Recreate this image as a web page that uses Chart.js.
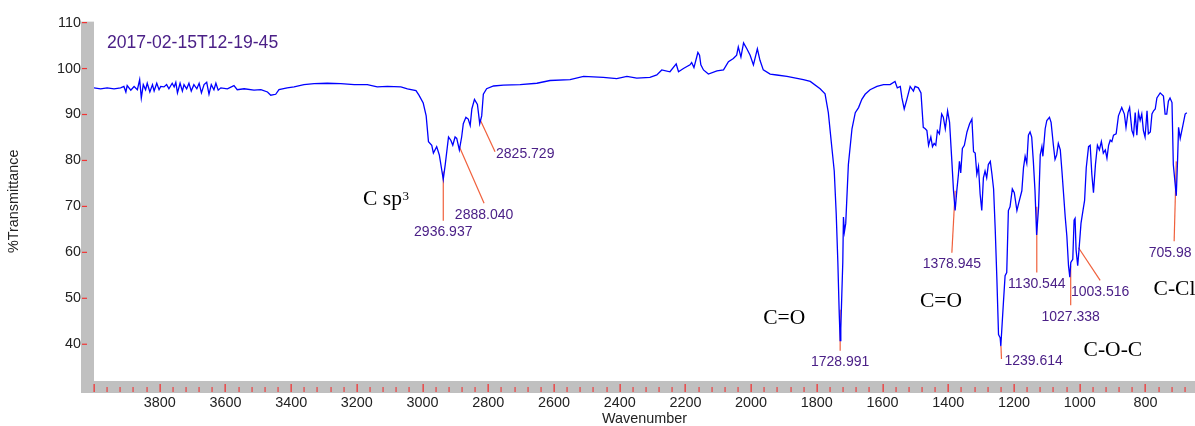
<!DOCTYPE html>
<html><head><meta charset="utf-8">
<script src="https://cdn.jsdelivr.net/npm/chart.js@4.4.1/dist/chart.umd.min.js"></script>
<style>html,body{margin:0;padding:0;background:#fff;overflow:hidden}#wrap{position:relative;width:1195px;height:426px}</style>
</head><body><div id="wrap"><canvas id="c" width="1195" height="426"></canvas></div>
<script>
// ---- data ----
const wavenumber = [4000,3980,3960,3939,3919,3909,3903,3899,3888,3878,3868,3861,3856,3850,3843,3838,3830,3822,3817,3809,3802,3797,3787,3779,3772,3762,3756,3751,3746,3738,3731,3726,3718,3711,3704,3696,3687,3680,3673,3665,3657,3650,3643,3635,3629,3622,3614,3594,3574,3564,3543,3513,3492,3472,3462,3447,3437,3412,3391,3361,3330,3290,3249,3208,3168,3138,3107,3066,3046,3020,3011,2998,2989,2982,2972,2967,2957,2949,2937,2931,2921,2914,2908,2901,2896,2888,2881,2876,2868,2861,2855,2850,2842,2833,2826,2820,2815,2805,2784,2754,2703,2652,2612,2551,2510,2450,2409,2378,2348,2308,2287,2272,2247,2228,2221,2206,2186,2181,2174,2162,2157,2153,2145,2130,2104,2084,2069,2054,2044,2039,2031,2023,2013,2003,1993,1981,1973,1963,1942,1922,1891,1841,1820,1790,1775,1765,1754,1747,1741,1736,1732,1729,1727,1724,1721,1719,1716,1712,1704,1693,1683,1673,1663,1653,1638,1617,1597,1577,1562,1555,1546,1541,1534,1526,1516,1506,1501,1491,1483,1476,1470,1465,1460,1453,1448,1443,1438,1433,1427,1420,1415,1409,1402,1396,1389,1384,1379,1374,1369,1366,1362,1357,1351,1343,1335,1328,1323,1318,1313,1308,1303,1298,1293,1288,1283,1278,1272,1267,1262,1257,1252,1247,1242,1240,1232,1227,1222,1217,1212,1205,1199,1191,1186,1176,1171,1166,1161,1156,1151,1146,1141,1136,1131,1125,1120,1115,1112,1105,1100,1092,1087,1080,1075,1070,1065,1059,1054,1049,1044,1039,1034,1030,1027,1021,1017,1014,1011,1006,1002,996,990,985,980,973,968,963,958,952,946,940,934,928,922,917,912,907,902,897,889,882,872,864,859,853,848,841,836,831,826,821,816,811,806,801,795,791,785,780,775,770,765,755,745,740,735,730,725,719,715,706,702,699,694,686,679,674];
const transmittance = [95.8,95.6,95.8,95.6,95.8,96.1,94.9,96.3,95.3,96.1,95.4,97.6,93.6,96.5,95.4,96.8,94.9,96.5,95.1,96.8,95.4,96.1,96.0,96.5,95.6,96.8,96.0,97.0,94.7,96.8,95.1,96.5,95.6,96.8,95.1,96.5,95.6,96.8,94.7,96.5,97.0,94.4,96.5,95.4,96.8,95.3,95.8,95.6,96.3,95.4,95.6,95.3,95.4,94.9,94.2,94.4,95.4,95.8,96.0,96.5,96.7,96.8,96.7,96.5,96.5,96.0,96.1,96.0,95.6,95.2,94.2,92.5,89.7,84.1,83.3,81.6,83.0,81.2,75.9,79.1,85.1,84.4,83.3,85.1,84.8,82.3,85.1,88.0,89.4,89.0,87.6,91.2,93.3,92.2,88.0,89.7,94.4,95.6,96.2,96.4,96.5,96.8,97.4,97.6,98.3,98.1,97.8,98.3,97.9,98.1,98.6,99.7,99.3,101.0,99.3,100.0,100.8,101.3,100.2,103.5,102.9,100.8,99.7,98.8,99.5,99.7,101.5,102.2,102.9,104.7,102.5,105.6,104.3,102.9,100.8,104.3,101.8,99.7,98.8,98.6,98.3,97.6,97.2,95.6,94.5,90.4,82.6,77.7,68.4,57.8,47.1,40.8,43.5,50.7,57.8,67.7,64.5,66.3,79.1,86.9,90.4,91.5,93.3,94.4,95.4,96.1,96.5,96.5,97.2,95.8,96.1,93.6,91.2,93.3,96.1,95.1,96.1,95.8,94.7,87.2,86.9,86.5,83.3,85.1,83.0,83.7,83.3,86.5,85.8,90.1,89.4,86.9,90.8,88.3,79.8,73.4,69.1,73.4,77.0,79.8,77.3,82.6,83.3,86.2,88.0,89.0,81.9,81.6,77.0,78.7,72.7,69.1,76.2,77.7,76.2,79.1,79.8,77.0,73.8,64.9,54.2,42.1,41.4,39.6,49.2,54.9,55.6,69.1,69.9,73.8,73.0,69.1,70.6,73.4,78.4,80.9,79.4,85.5,86.2,85.1,79.8,73.4,63.8,69.9,81.2,83.0,80.9,86.9,88.7,89.4,88.3,83.3,80.2,81.2,83.7,82.3,77.7,72.7,67.7,63.5,57.1,54.6,57.8,58.5,67.0,67.4,60.6,57.1,60.6,66.3,69.1,71.3,78.4,83.0,83.3,77.0,73.0,79.1,83.3,82.3,84.1,81.6,82.3,80.5,83.3,84.4,84.1,85.5,85.8,89.7,91.5,90.1,87.2,90.4,91.5,86.5,85.5,90.4,85.5,90.4,88.7,90.1,86.5,85.1,90.8,85.8,86.2,90.1,90.8,91.2,93.6,94.7,94.0,90.1,90.1,92.9,93.6,92.6,79.1,72.3,80.2,87.2,84.8,87.6,90.1,90.4];

const xTickValues = [3800,3600,3400,3200,3000,2800,2600,2400,2200,2000,1800,1600,1400,1200,1000,800];
const yTickValues = [40,50,60,70,80,90,100,110];

// peak annotations
const peakNames  = ['2936.937','2888.040','2825.729','1728.991','1378.945','1239.614','1130.544','1027.338','1003.516','705.98'];
const peakWn     = [2936.937, 2888.040, 2825.729, 1728.991, 1378.945, 1239.614, 1130.544, 1027.338, 1003.516, 705.98];
const leaderTopT = [77.6, 83.0, 89.0, 47.5, 73.4, 39.6, 69.9, 57.1, 61.0, 79.8];
const leaderEndWn= [2936.937, 2812.8, 2779.4, 1728.991, 1389, 1238, 1130.544, 1027.338, 937.7, 712.5];
const leaderEndT = [66.9, 70.7, 81.9, 38.6, 59.9, 36.8, 55.6, 48.5, 53.9, 62.4];

// group labels
const groupNames = ['C sp', 'C=O', 'C=O', 'C-O-C', 'C-Cl'];
const groupWn    = [3181, 1963, 1486, 988, 775];
const groupT     = [70.2, 44.3, 48.2, 37.5, 50.7];

const titleText = '2017-02-15T12-19-45';

// ---- styling / layout ----
const SANS = "'Liberation Sans', Arial, sans-serif";
const SERIF = "'Liberation Serif', 'Times New Roman', serif";
const PURPLE = '#4b2087';
const LEADER = '#f0603c';
const TICKRED = '#f03535';
// label placement: 'below' = centred under leader end, 'right' = to the right of leader end
const labelMode = ['below','below','right','below','below','right','below','below','below','below'];
const labelDx   = [0,0,1,0,0,3,0,0,0,-4];

const decor = {
  id: 'decor',
  beforeDatasetsDraw(chart) {
    const {ctx, chartArea: a, scales: {x, y}} = chart;
    ctx.save();
    ctx.fillStyle = '#c0c0c0';
    ctx.fillRect(81, a.top, a.left - 81, a.bottom + 12 - a.top);
    ctx.fillRect(81, a.bottom, a.right - 81, 12);
    ctx.strokeStyle = LEADER; ctx.lineWidth = 1.2;
    for (let i = 0; i < peakWn.length; i++) {
      ctx.beginPath();
      ctx.moveTo(x.getPixelForValue(peakWn[i]), y.getPixelForValue(leaderTopT[i]));
      ctx.lineTo(x.getPixelForValue(leaderEndWn[i]), y.getPixelForValue(leaderEndT[i]));
      ctx.stroke();
    }
    ctx.restore();
  },
  afterDatasetsDraw(chart) {
    const {ctx, chartArea: a, scales: {x, y}} = chart;
    ctx.save();
    // ticks in the gray bars
    ctx.fillStyle = TICKRED;
    for (let v = 4000; v >= x.min; v -= 40) {
      const px = Math.round(x.getPixelForValue(v));
      if (v % 200 === 0) ctx.fillRect(px - 0.5, a.bottom + 3, 1.3, 8);
      else ctx.fillRect(px - 0.5, a.bottom + 6, 1.1, 5);
    }
    for (const v of yTickValues) {
      const py = y.getPixelForValue(v);
      ctx.fillRect(82, py - 0.6, 5, 1.2);
    }
    // title
    ctx.fillStyle = PURPLE;
    ctx.font = '17.6px ' + SANS;
    ctx.textBaseline = 'alphabetic'; ctx.textAlign = 'left';
    ctx.fillText(titleText, 107, 48);
    // peak labels
    ctx.font = '14px ' + SANS;
    ctx.textBaseline = 'middle';
    for (let i = 0; i < peakNames.length; i++) {
      const ex = x.getPixelForValue(leaderEndWn[i]);
      const ey = y.getPixelForValue(leaderEndT[i]);
      if (labelMode[i] === 'below') {
        ctx.textAlign = 'center';
        ctx.fillText(peakNames[i], ex + labelDx[i], ey + 11.5);
      } else {
        ctx.textAlign = 'left';
        ctx.fillText(peakNames[i], ex + labelDx[i], ey + 2);
      }
    }
    // group labels
    ctx.fillStyle = '#000';
    ctx.textAlign = 'left'; ctx.textBaseline = 'alphabetic';
    for (let i = 0; i < groupNames.length; i++) {
      const gx = x.getPixelForValue(groupWn[i]);
      const gy = y.getPixelForValue(groupT[i]);
      ctx.font = '21.5px ' + SERIF;
      ctx.fillText(groupNames[i], gx, gy);
      if (i === 0) {
        const w = ctx.measureText(groupNames[i]).width;
        ctx.font = '13px ' + SERIF;
        ctx.fillText('3', gx + w + 0.5, gy - 5.5);
      }
    }
    ctx.restore();
  }
};

new Chart(document.getElementById('c'), {
  type: 'line',
  data: {
    datasets: [{
      data: wavenumber.map((w, i) => ({x: w, y: transmittance[i]})),
      borderColor: '#0000ff',
      borderWidth: 1.3,
      pointRadius: 0,
      fill: false,
      tension: 0
    }]
  },
  options: {
    responsive: false,
    animation: false,
    events: [],
    devicePixelRatio: 1,
    layout: {padding: {top: 14, left: 0, right: 0, bottom: 0}},
    plugins: {legend: {display: false}, tooltip: {enabled: false}},
    scales: {
      x: {
        type: 'linear', reverse: true, min: 649, max: 4000,
        grid: {display: false, drawTicks: false},
        border: {display: false},
        ticks: {padding: 13, color: '#222', font: {family: SANS, size: 14.4}, autoSkip: false, maxRotation: 0,
                callback: v => String(v)},
        afterBuildTicks: s => { s.ticks = xTickValues.map(v => ({value: v})); },
        afterFit: s => { s.height = 45; },
        title: {display: true, text: 'Wavenumber', color: '#222', font: {family: SANS, size: 14.4, lineHeight: 1}, padding: 0}
      },
      y: {
        type: 'linear', min: 32, max: 110.21,
        grid: {display: false, drawTicks: false},
        border: {display: false},
        ticks: {padding: 13, color: '#222', font: {family: SANS, size: 14.4}, callback: v => String(v)},
        afterBuildTicks: s => { s.ticks = yTickValues.map(v => ({value: v})); },
        afterFit: s => { s.width = 94; },
        title: {display: true, text: '%Transmittance', color: '#222', font: {family: SANS, size: 14.4, lineHeight: 1}, padding: {top: 7, bottom: 0}}
      }
    }
  },
  plugins: [decor]
});
</script></body></html>
